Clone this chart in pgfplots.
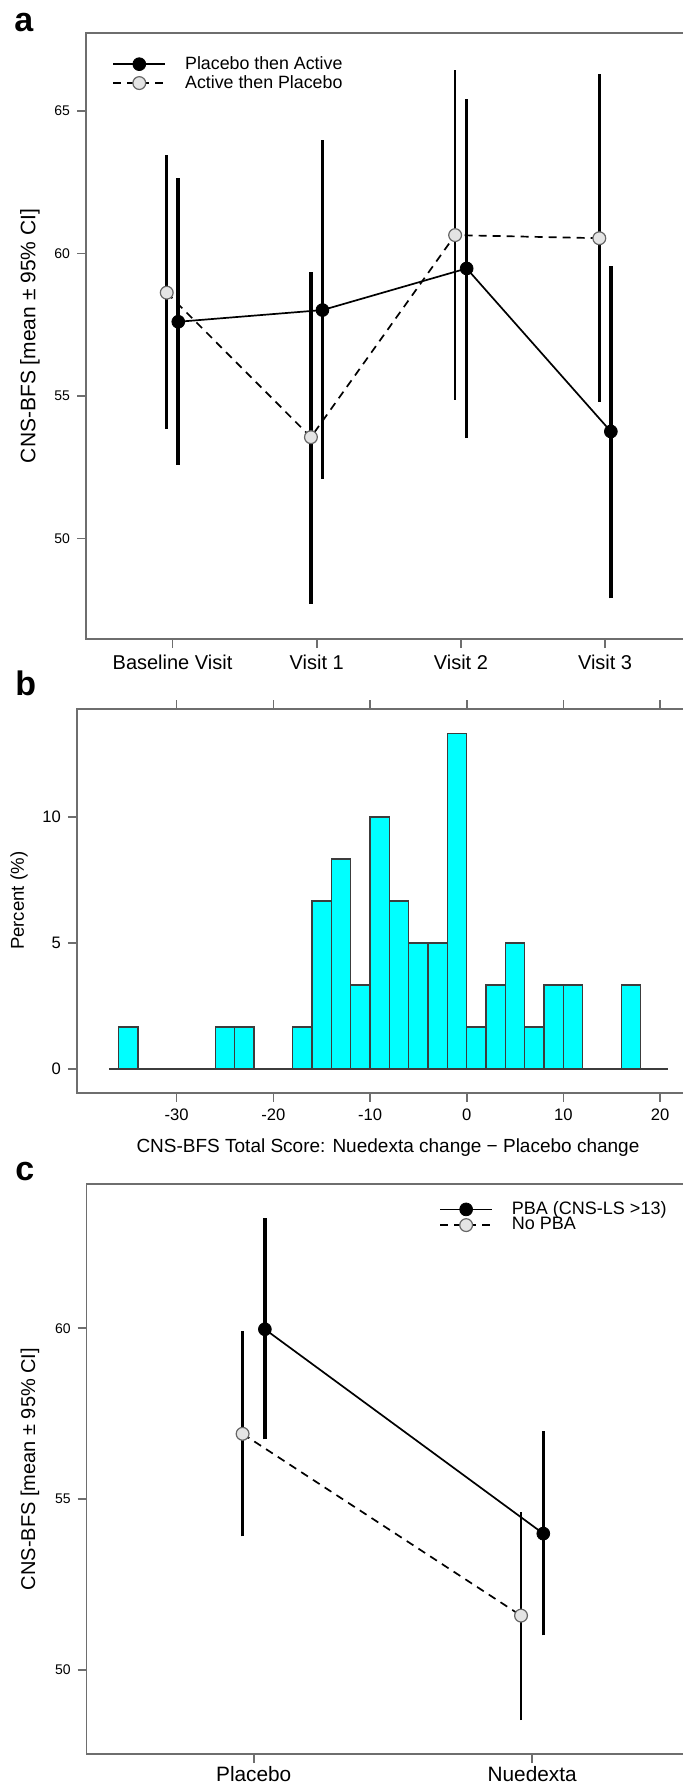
\documentclass[border=0pt]{standalone}
\usepackage{fontspec}
\setmainfont{Liberation Sans}
\usepackage{pgfplots}
\usepackage{pgfplotstable}
\pgfplotsset{compat=1.18}

\definecolor{framegray}{HTML}{6E6E6E}
\definecolor{ptgray}{HTML}{E4E4E4}
\definecolor{ptedge}{HTML}{666666}
\definecolor{histfill}{HTML}{00FFFF}
\definecolor{histedge}{HTML}{3C3C3C}

% panel a: x position, mean, lower / upper 95% CI, bar width (pt)
\pgfplotstableread{
x    m     lo     hi     w
1.04 57.60 52.59  62.63  2.0
2.04 58.01 52.08  63.97  1.3
3.04 59.47 53.52  65.43  1.3
4.04 53.75 47.90  59.56  2.0
}\plcact
\pgfplotstableread{
x    m     lo     hi     w
0.96 58.62 53.83  63.45  1.3
1.96 53.55 47.70  59.33  1.8
2.96 60.64 54.86  66.43  1.3
3.96 60.53 54.80  66.29  1.5
}\actplc

% panel b: left bin edge, percent
\pgfplotstableread{
x    p
-36  1.667
-34  0
-32  0
-30  0
-28  0
-26  1.667
-24  1.667
-22  0
-20  0
-18  1.667
-16  6.667
-14  8.333
-12  3.333
-10  10
-8   6.667
-6   5
-4   5
-2   13.333
0    1.667
2    3.333
4    5
6    1.667
8    3.333
10   3.333
12   0
14   0
16   3.333
18   0
}\hist

% panel c
\pgfplotstableread{
x    m     lo     hi     w
1.04 59.97 56.75  63.22  2.0
2.04 53.99 51.01  57.00  1.5
}\pba
\pgfplotstableread{
x    m     lo     hi     w
0.96 56.91 53.91  59.93  1.2
1.96 51.59 48.53  54.61  1.1
}\nopba

\pgfplotsset{
  rplot/.style={
    scale only axis, anchor=south west,
    axis line style={framegray, line width=0.8pt},
    every tick/.style={framegray, line width=0.8pt},
    major tick length=4.5pt,
    tick align=outside,
    ytick pos=left,
    /pgf/number format/assume math mode=true,
    legend cell align=left,
  },
  cibars/.style={forget plot, black, point meta=\thisrow{w},
    point meta min=0, point meta max=4,
    quiver={u=0, v=\thisrow{hi}-\thisrow{lo},
      every arrow/.append style={-, line width=4pt*\pgfplotspointmetatransformed/1000}}},
  seriesA/.style={black, line width=0.85pt, mark=*, mark size=3.2pt,
    mark options={solid, fill=black, draw=black, line width=0.4pt}},
  seriesB/.style={black, line width=0.85pt, dash pattern=on 4pt off 3pt,
    mark=*, mark size=3.2pt,
    mark options={solid, fill=ptgray, draw=ptedge, line width=0.6pt}},
  longlegend/.style={legend image code/.code={
    \draw[mark repeat=2, mark phase=2, ##1] plot coordinates {(0pt,0pt) (13pt,0pt) (26pt,0pt)};
    \path (35pt,0pt);}},
}

\begin{document}
\begin{tikzpicture}

% ---------------- a ----------------
\node[font=\bfseries\fontsize{17}{17}\selectfont, anchor=base west, inner sep=0pt] at (7pt,-15.5pt) {a};
\begin{axis}[rplot, at={(43pt,-319.5pt)}, width=302.8pt, height=303pt,
  xmin=0.4, xmax=4.6, ymin=46.47, ymax=67.73,
  xtick={1,2,3,4}, xticklabels={Baseline Visit, Visit 1, Visit 2, Visit 3},
  ytick={50,55,60,65}, xtick pos=bottom,
  x tick label style={font=\fontsize{10}{11}\selectfont},
  y tick label style={font=\fontsize{7}{8}\selectfont},
  ylabel={CNS-BFS [mean ± 95\% CI]},
  ylabel style={at={(axis description cs:-0.0925,0.5)}, anchor=center, font=\fontsize{10.5}{12}\selectfont},
  longlegend,
  legend style={at={(axis description cs:0.043,0.964)}, anchor=north west, draw=none, fill=none,
    inner sep=0pt, row sep=0.5pt, nodes={inner sep=0.5pt}, font=\fontsize{8.9}{9.5}\selectfont},
]
\addplot[cibars] table[x=x, y=lo] {\plcact};
\addplot[cibars] table[x=x, y=lo] {\actplc};
\addplot[seriesA] table[x=x, y=m] {\plcact};
\addplot[seriesB] table[x=x, y=m] {\actplc};
\legend{Placebo then Active, Active then Placebo}
\end{axis}

% ---------------- b ----------------
\node[font=\bfseries\fontsize{17}{17}\selectfont, anchor=base west, inner sep=0pt] at (7.5pt,-347.5pt) {b};
\begin{axis}[rplot, at={(38.5pt,-546.35pt)}, width=308.5pt, height=191.85pt,
  xmin=-40.3, xmax=23.5, ymin=-0.94, ymax=14.29,
  xtick={-30,-20,...,20}, ytick={0,5,10}, xtick pos=both,
  tick label style={font=\fontsize{8.3}{9}\selectfont},
  xlabel={CNS-BFS Total Score: Nuedexta change − Placebo change},
  xlabel style={at={(axis description cs:0.504,-0.144)}, anchor=center, font=\fontsize{9.5}{11}\selectfont},
  ylabel={Percent (\%)},
  ylabel style={at={(axis description cs:-0.094,0.5)}, anchor=center, font=\fontsize{9.3}{11}\selectfont},
]
\addplot[histedge, line width=0.8pt, forget plot] coordinates {(-37,0) (20.8,0)};
\addplot[ybar interval, fill=histfill, draw=histedge, line width=0.6pt] table[x=x, y=p] {\hist};
\end{axis}

% ---------------- c ----------------
\node[font=\bfseries\fontsize{17}{17}\selectfont, anchor=base west, inner sep=0pt] at (7.5pt,-590pt) {c};
\begin{axis}[rplot, at={(43.35pt,-877pt)}, width=306.25pt, height=285pt,
  xmin=0.4, xmax=2.6, ymin=47.54, ymax=64.22,
  xtick={1,2}, xticklabels={Placebo, Nuedexta},
  ytick={50,55,60}, xtick pos=bottom,
  x tick label style={font=\fontsize{10.4}{11}\selectfont, yshift=2pt},
  y tick label style={font=\fontsize{7}{8}\selectfont},
  ylabel={CNS-BFS [mean ± 95\% CI]},
  ylabel style={at={(axis description cs:-0.0926,0.5)}, anchor=center, font=\fontsize{10}{12}\selectfont},
  longlegend,
  legend style={at={(axis description cs:0.575,0.972)}, anchor=north west, draw=none, fill=none,
    inner sep=0pt, row sep=-1pt, nodes={inner sep=0.5pt}, font=\fontsize{9}{9.5}\selectfont},
]
\addplot[cibars] table[x=x, y=lo] {\pba};
\addplot[cibars] table[x=x, y=lo] {\nopba};
\addplot[seriesA] table[x=x, y=m] {\pba};
\addplot[seriesB] table[x=x, y=m] {\nopba};
\legend{PBA (CNS-LS >13), No PBA}
\end{axis}

\pgfresetboundingbox
\path[use as bounding box] (0pt,0pt) rectangle (341pt,-895pt);
\end{tikzpicture}
\end{document}
